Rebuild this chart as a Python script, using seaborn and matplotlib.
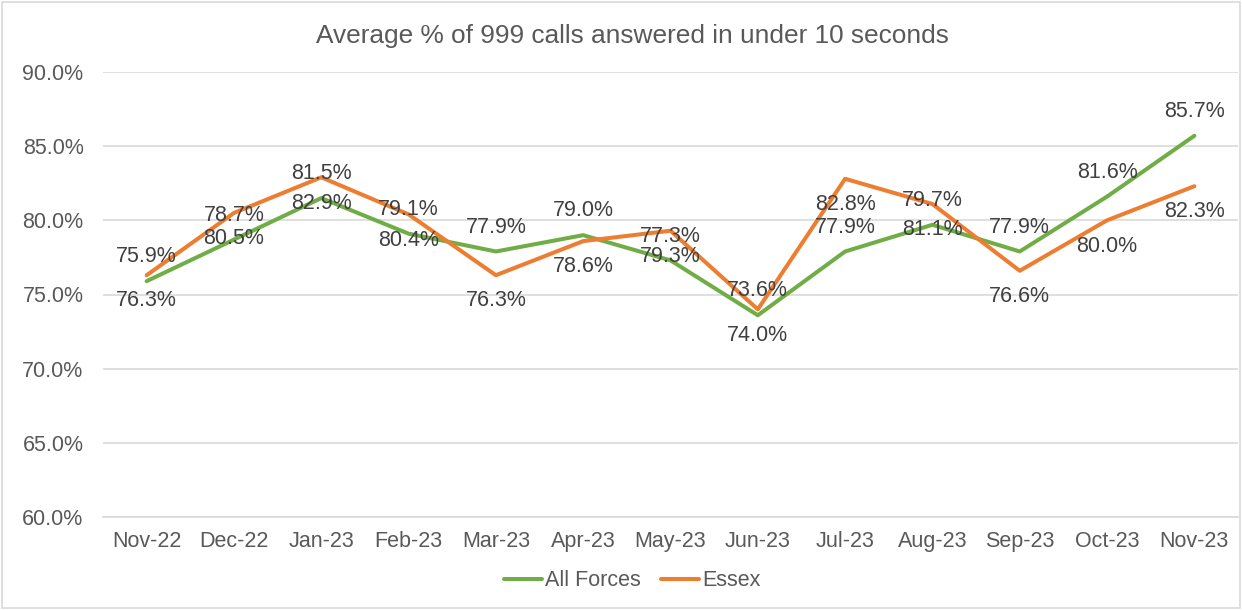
import matplotlib
matplotlib.use("Agg")
import matplotlib.pyplot as plt
import numpy as np
import pandas as pd
import seaborn as sns
from matplotlib.patches import Rectangle

months = ['Nov-22', 'Dec-22', 'Jan-23', 'Feb-23', 'Mar-23', 'Apr-23', 'May-23',
          'Jun-23', 'Jul-23', 'Aug-23', 'Sep-23', 'Oct-23', 'Nov-23']
all_forces = [75.9, 78.7, 81.5, 79.1, 77.9, 79.0, 77.3, 73.6, 77.9, 79.7, 77.9, 81.6, 85.7]
essex = [76.3, 80.5, 82.9, 80.4, 76.3, 78.6, 79.3, 74.0, 82.8, 81.1, 76.6, 80.0, 82.3]
y_ticks = [60, 65, 70, 75, 80, 85, 90]

GREEN = '#70AD47'
ORANGE = '#ED7D31'
GREY_TXT = '#595959'
GRID = '#D9D9D9'
FS = 15.5

df = pd.DataFrame({
    'month': months * 2,
    'value': all_forces + essex,
    'series': ['All Forces'] * len(months) + ['Essex'] * len(months),
})
df['pos'] = list(range(len(months))) * 2

sns.set_theme(style='white')
plt.rcParams['font.family'] = ['Liberation Sans', 'DejaVu Sans']

fig = plt.figure(figsize=(12.42, 6.10), dpi=100)
ax = fig.add_axes([103 / 1242, 1 - 517 / 610, 1135 / 1242, 445 / 610])

sns.lineplot(data=df, x='pos', y='value', hue='series',
             palette={'All Forces': GREEN, 'Essex': ORANGE},
             linewidth=2.9, ax=ax, legend=True)

# data labels: All Forces above the line, Essex below
for i, v in enumerate(all_forces):
    ax.annotate(f'{v:.1f}%', (i, v), xytext=(0, 17.5), textcoords='offset points',
                ha='center', va='center', fontsize=FS, color='#404040')
for i, v in enumerate(essex):
    ax.annotate(f'{v:.1f}%', (i, v), xytext=(0, -18.5), textcoords='offset points',
                ha='center', va='center', fontsize=FS, color='#404040')

ax.set_xlim(-0.5, len(months) - 0.5)
ax.set_ylim(60, 90)
ax.set_yticks(y_ticks)
ax.set_yticklabels([f'{t:.1f}%' for t in y_ticks])
ax.set_xticks(range(len(months)))
ax.set_xticklabels(months)
ax.set_xticks(np.arange(-0.5, len(months)), minor=True)
ax.tick_params(axis='x', which='major', length=0, pad=10, labelsize=FS, labelcolor=GREY_TXT)
ax.tick_params(axis='x', which='minor', length=6, width=1, color=GRID)
ax.tick_params(axis='y', length=0, pad=14, labelsize=FS, labelcolor=GREY_TXT)
ax.grid(axis='y', color=GRID, linewidth=1.2)
ax.set_axisbelow(True)
ax.set_xlabel('')
ax.set_ylabel('')
for s in ['top', 'right', 'left']:
    ax.spines[s].set_visible(False)
ax.spines['bottom'].set_color(GRID)
ax.spines['bottom'].set_linewidth(1.2)

sns.move_legend(ax, 'center', bbox_to_anchor=(0.509, 1 - 581 / 610),
                bbox_transform=fig.transFigure, ncol=2, frameon=False,
                title=None, fontsize=FS, handlelength=1.75, columnspacing=0.95,
                handletextpad=0.15)
for t in ax.get_legend().get_texts():
    t.set_color(GREY_TXT)

fig.text(632 / 1242, 1 - 36 / 610, 'Average % of 999 calls answered in under 10 seconds',
         ha='center', va='center', fontsize=18.9, color=GREY_TXT)

fig.patches.append(Rectangle((2 / 1242, 2 / 610), 1 - 4 / 1242, 1 - 4 / 610,
                             transform=fig.transFigure, fill=False,
                             edgecolor=GRID, linewidth=1.2))

fig.savefig('out.png', dpi=100, facecolor='white')
